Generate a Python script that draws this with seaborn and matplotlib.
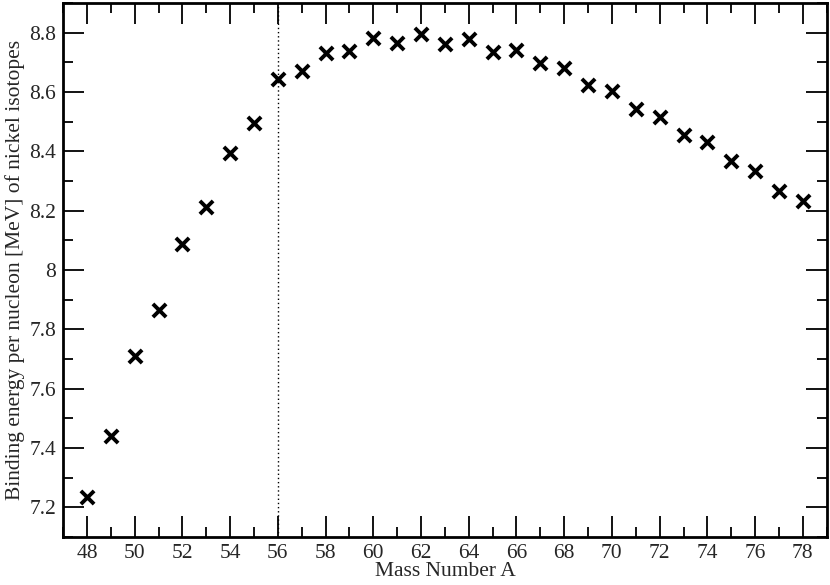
import numpy as np
import pandas as pd
import matplotlib
matplotlib.use("Agg")
import matplotlib.pyplot as plt
import seaborn as sns
from matplotlib.ticker import MultipleLocator

mass_number = list(range(48, 79))
binding_energy = [7.236, 7.441, 7.710, 7.865, 8.087, 8.211, 8.393, 8.497,
                  8.643, 8.671, 8.732, 8.737, 8.781, 8.765, 8.795, 8.763,
                  8.778, 8.736, 8.740, 8.696, 8.682, 8.625, 8.604, 8.541,
                  8.517, 8.456, 8.432, 8.366, 8.332, 8.266, 8.232]
ytick_labels = ["7.2", "7.4", "7.6", "7.8", "8", "8.2", "8.4", "8.6", "8.8"]

df = pd.DataFrame({"A": mass_number, "BE": binding_energy})

sns.set_style("ticks")
plt.rcParams["font.family"] = ["Liberation Serif", "DejaVu Serif"]

fig = plt.figure(figsize=(8.3, 5.85), dpi=100)
ax = fig.add_axes([0.076, 0.082, 0.920, 0.913])

ax.axvline(56, color="black", linestyle=(0, (1, 2)), linewidth=1.0, zorder=1)
sns.scatterplot(data=df, x="A", y="BE", marker="x", s=90, color="black",
                linewidth=2.8, ax=ax, zorder=3)

ax.set_xlim(47, 79)
ax.set_ylim(7.1, 8.9)
ax.xaxis.set_major_locator(MultipleLocator(2))
ax.xaxis.set_minor_locator(MultipleLocator(1))
ax.yaxis.set_minor_locator(MultipleLocator(0.1))
ax.set_yticks(np.arange(7.2, 8.81, 0.2))
ax.set_yticklabels(ytick_labels)

ax.tick_params(which="both", direction="in", top=True, right=True,
               labelsize=15.5, width=1.3, color="black")
ax.tick_params(which="major", length=15, pad=5)
ax.tick_params(which="minor", length=7)
for sp in ax.spines.values():
    sp.set_linewidth(2)
    sp.set_color("black")

ax.set_xlabel("Mass Number A", fontsize=15.5, labelpad=-1)
ax.set_ylabel("Binding energy per nucleon [MeV] of nickel isotopes", fontsize=15.5, labelpad=3)

fig.savefig("out.png", dpi=100)
